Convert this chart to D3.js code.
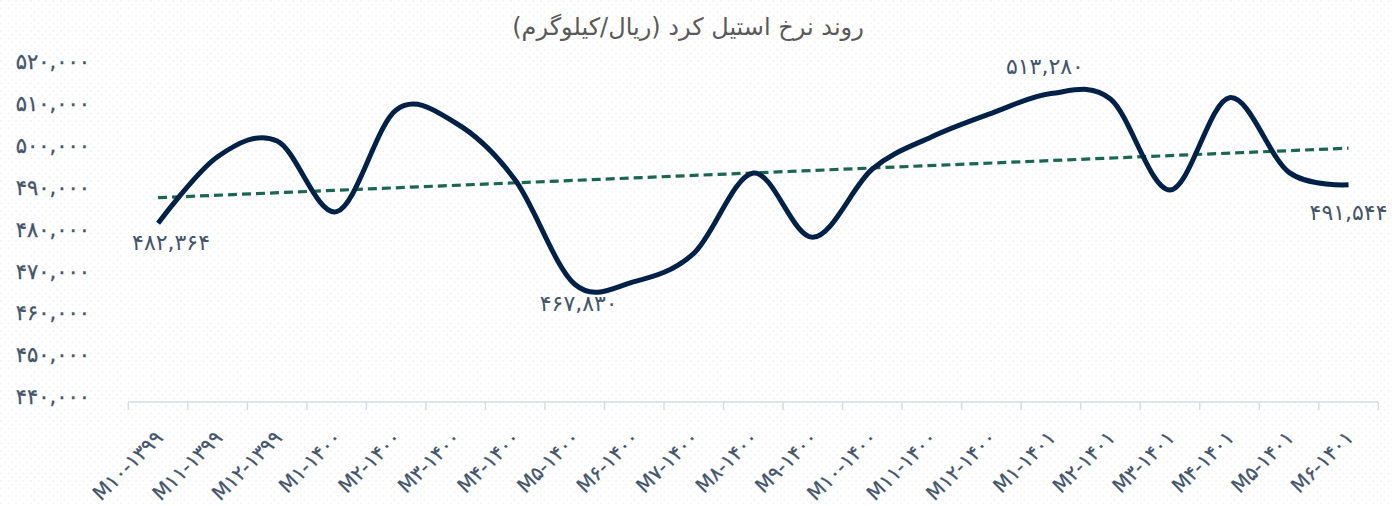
<!DOCTYPE html>
<html>
<head>
<meta charset="utf-8">
<script src="https://cdnjs.cloudflare.com/ajax/libs/d3/7.8.5/d3.min.js"></script>
<style>
  body { margin: 0; background: #fff; }
  svg { display: block; }
  text { font-family: "DejaVu Sans", sans-serif; }
</style>
</head>
<body>
<script>
// monthly steel price (rial / kg)
const months = ["M10-1399", "M11-1399", "M12-1399", "M1-1400", "M2-1400", "M3-1400", "M4-1400",
  "M5-1400", "M6-1400", "M7-1400", "M8-1400", "M9-1400", "M10-1400", "M11-1400", "M12-1400",
  "M1-1401", "M2-1401", "M3-1401", "M4-1401", "M5-1401", "M6-1401"];
const prices = [482364, 498240, 501980, 485125, 509370, 506270, 492680, 467830, 468440, 475210,
  494350, 479020, 495300, 503000, 508580, 513280, 512000, 490300, 512300, 494500, 491544];
const yTicks = [440000, 450000, 460000, 470000, 480000, 490000, 500000, 510000, 520000];
const labelled = [0, 7, 15, 20];   // first, min, max, last
const title = "روند نرخ استیل کرد (ریال/کیلوگرم)";

const w = 1392, h = 506;
// label offsets from the point (px)
const labelOff = { 0: [13, 27], 7: [4, 27], 15: [-6, -20], 20: [0, 35] };

const fa = "۰۱۲۳۴۵۶۷۸۹";
const toFa = s => String(s).replace(/\d/g, d => fa[d]);

const svg = d3.select("body").append("svg").attr("width", w).attr("height", h);

// faint dotted background
const pat = svg.append("defs").append("pattern")
  .attr("id", "dots").attr("width", 7.5).attr("height", 7.5)
  .attr("patternUnits", "userSpaceOnUse");
pat.append("circle").attr("cx", 1).attr("cy", 1).attr("r", 1).attr("fill", "#f1f1f1");
pat.append("circle").attr("cx", 4.75).attr("cy", 4.75).attr("r", 1).attr("fill", "#f1f1f1");
svg.append("rect").attr("width", w).attr("height", h).attr("fill", "url(#dots)");

const x = d3.scaleBand().domain(months).range([128.3, 1378.3]);
const y = d3.scaleLinear().domain([440000, 520000]).range([401, 65.4]);
const cx = m => x(m) + x.bandwidth() / 2;

// title
svg.append("text")
  .attr("x", 688).attr("y", 35)
  .attr("text-anchor", "middle")
  .attr("direction", "rtl")
  .attr("fill", "#595959")
  .style("font-size", "24px")
  .text(title);

// y labels
svg.append("g").selectAll("text").data(yTicks).enter().append("text")
  .attr("x", 90).attr("y", d => y(d) - 4)
  .attr("dy", "0.35em")
  .attr("text-anchor", "end")
  .attr("fill", "#44546a")
  .attr("stroke", "#44546a").attr("stroke-width", 0.3)
  .style("font-size", "21px")
  .text(d => toFa(d3.format(",")(d)));

// x axis (ticks on category edges)
const ax = svg.append("g").attr("stroke", "#d6dce5").attr("stroke-width", 1.5);
ax.append("line").attr("x1", x.range()[0]).attr("x2", x.range()[1])
  .attr("y1", 402).attr("y2", 402);
const edges = months.map(m => x(m)).concat([x.range()[1]]);
ax.selectAll(".tk").data(edges).enter().append("line")
  .attr("x1", d => d).attr("x2", d => d).attr("y1", 402).attr("y2", 410);

svg.append("g").selectAll("text").data(months).enter().append("text")
  .attr("transform", d => `translate(${cx(d) + 1},${434}) rotate(-45)`)
  .attr("text-anchor", "end")
  .attr("dy", "0.35em")
  .attr("fill", "#44546a")
  .attr("stroke", "#44546a").attr("stroke-width", 0.3)
  .style("font-size", "20px")
  .text(d => toFa(d));

// linear trend line
const n = prices.length;
const mx = d3.mean(prices, (d, i) => i), my = d3.mean(prices);
const slope = d3.sum(prices, (d, i) => (i - mx) * (d - my)) / d3.sum(prices, (d, i) => (i - mx) * (i - mx));
const trend = i => my + slope * (i - mx);

svg.append("line")
  .attr("x1", cx(months[0])).attr("y1", y(trend(0)))
  .attr("x2", cx(months[n - 1])).attr("y2", y(trend(n - 1)))
  .attr("stroke", "#1a6650").attr("stroke-width", 3.2)
  .attr("stroke-dasharray", "9,5");

// smooth price line
const line = d3.line()
  .x((d, i) => cx(months[i]))
  .y(d => y(d))
  .curve(d3.curveCatmullRom.alpha(0));

svg.append("path").datum(prices)
  .attr("d", line)
  .attr("fill", "none")
  .attr("stroke", "#002147")
  .attr("stroke-width", 5)
  .attr("stroke-linejoin", "round");

// data labels
svg.append("g").selectAll("text").data(labelled).enter().append("text")
  .attr("x", i => cx(months[i]) + labelOff[i][0])
  .attr("y", i => y(prices[i]) + labelOff[i][1])
  .attr("text-anchor", "middle")
  .attr("fill", "#44546a")
  .style("font-size", "22px")
  .text(i => toFa(d3.format(",")(prices[i])));
</script>
</body>
</html>
